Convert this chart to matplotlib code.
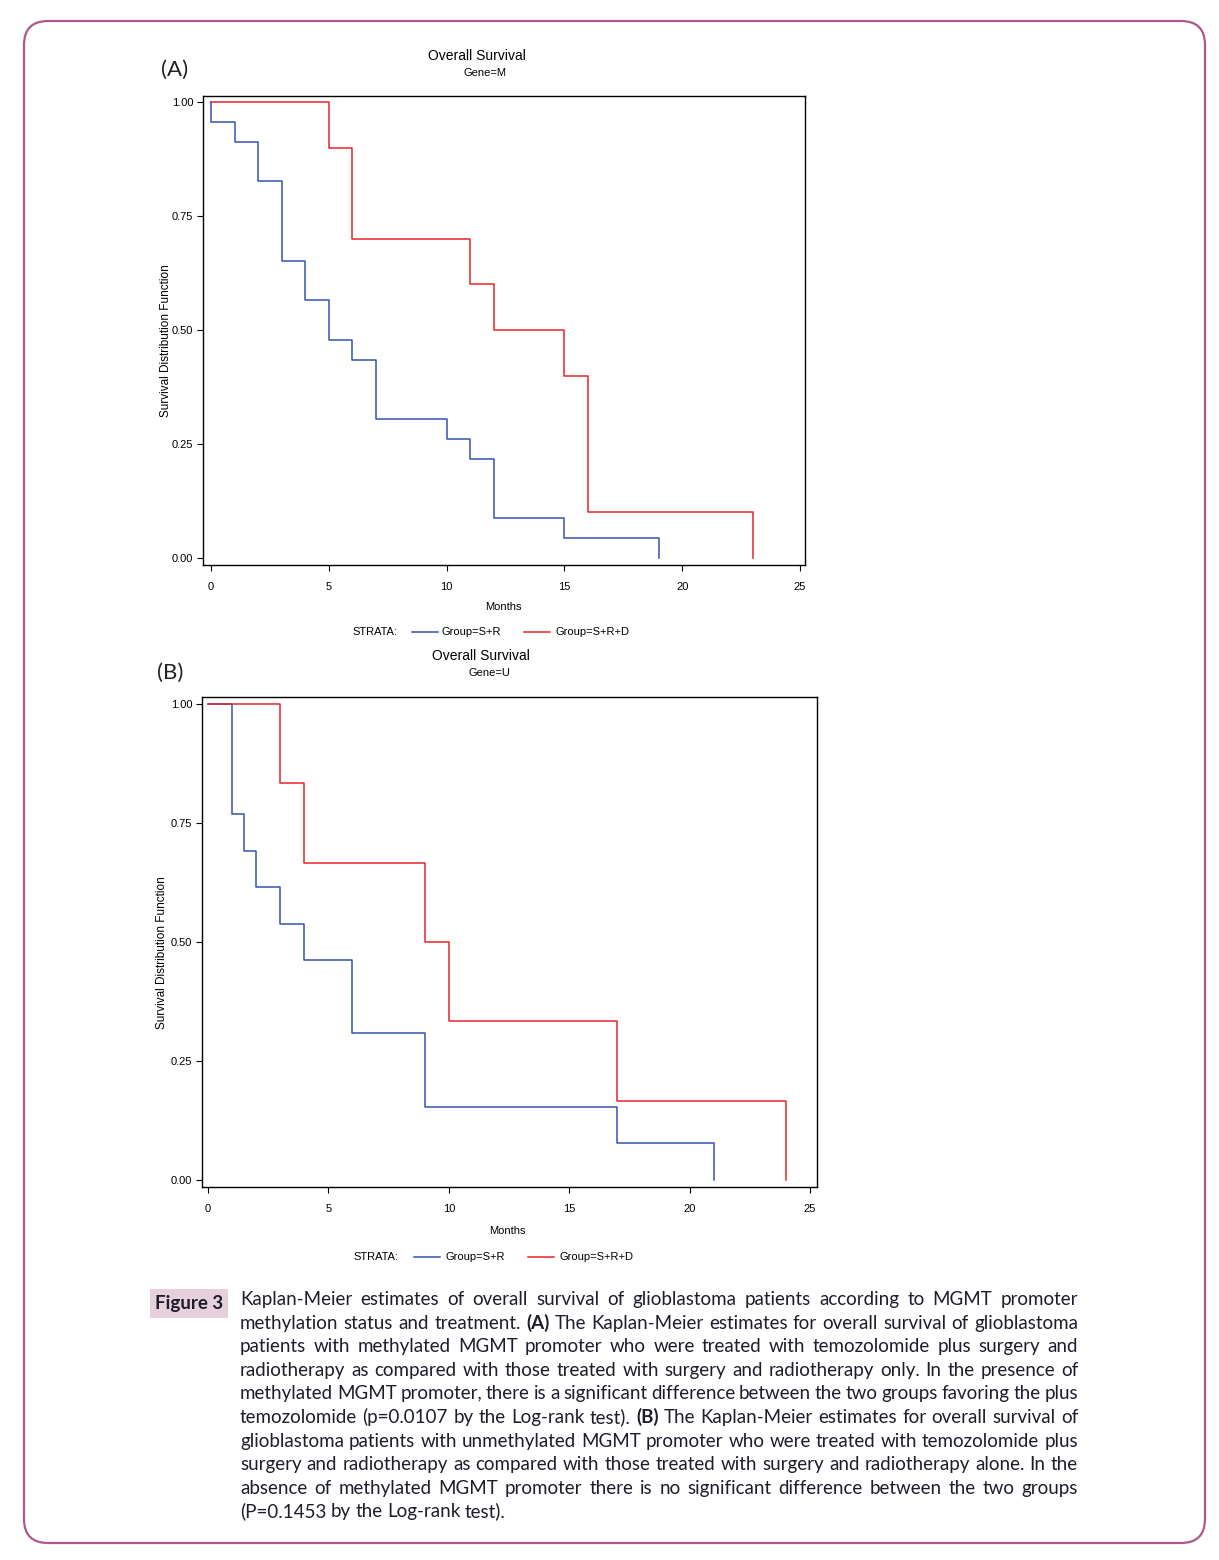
import numpy as np
import matplotlib
matplotlib.use('Agg')
import matplotlib.pyplot as plt
from matplotlib.patches import FancyBboxPatch, Rectangle
from matplotlib.lines import Line2D

W, H = 1219, 1560
sas = ['Liberation Sans Narrow', 'Liberation Sans', 'DejaVu Sans']
capfont = ['Lato', 'DejaVu Sans']
blue = '#3652b2'
red = '#e8232b'
ink = '#1d1d2b'
frame = '#b0578d'

# Kaplan-Meier steps (months, survival)
a_sr_t = [0, 0, 1, 2, 3, 4, 5, 6, 7, 10, 11, 12, 15, 19]
a_sr_s = [1.0, 0.957, 0.913, 0.826, 0.652, 0.565, 0.478, 0.435, 0.304, 0.261, 0.217, 0.087, 0.043, 0.0]
a_srd_t = [0, 5, 6, 11, 12, 15, 16, 23]
a_srd_s = [1.0, 0.9, 0.7, 0.6, 0.5, 0.4, 0.1, 0.0]

b_sr_t = [0, 1, 1.5, 2, 3, 4, 6, 9, 17, 21]
b_sr_s = [1.0, 0.769, 0.692, 0.615, 0.538, 0.462, 0.308, 0.154, 0.077, 0.0]
b_srd_t = [0, 3, 4, 9, 10, 17, 24]
b_srd_s = [1.0, 0.833, 0.667, 0.5, 0.333, 0.167, 0.0]

x_ticks = [0, 5, 10, 15, 20, 25]
y_ticks = [0.0, 0.25, 0.5, 0.75, 1.0]
y_labels = ['0.00', '0.25', '0.50', '0.75', '1.00']
strata = ['Group=S+R', 'Group=S+R+D']

caption = [
    "Kaplan-Meier estimates of overall survival of glioblastoma patients according to MGMT promoter",
    "methylation status and treatment. *(A)* The Kaplan-Meier estimates for overall survival of glioblastoma",
    "patients with methylated MGMT promoter who were treated with temozolomide plus surgery and",
    "radiotherapy as compared with those treated with surgery and radiotherapy only. In the presence of",
    "methylated MGMT promoter, there is a significant difference between the two groups favoring the plus",
    "temozolomide (p=0.0107 by the Log-rank test). *(B)* The Kaplan-Meier estimates for overall survival of",
    "glioblastoma patients with unmethylated MGMT promoter who were treated with temozolomide plus",
    "surgery and radiotherapy as compared with those treated with surgery and radiotherapy alone. In the",
    "absence of methylated MGMT promoter there is no significant difference between the two groups",
    "(P=0.1453 by the Log-rank test).",
]

fig = plt.figure(figsize=(W / 100, H / 100), dpi=100)
bg = fig.add_axes([0, 0, 1, 1], zorder=0)
bg.set_xlim(0, W)
bg.set_ylim(H, 0)
bg.axis('off')

bg.add_patch(FancyBboxPatch((24, 21), 1181, 1522, boxstyle='round,pad=0,rounding_size=24',
                            fc='none', ec=frame, lw=1.6))


def km_panel(l, t, r, b, x0, x25, y1, y0, t1, s1, t2, s2):
    ax = fig.add_axes([l / W, 1 - b / H, (r - l) / W, (b - t) / H], zorder=1)
    kx = 25.0 / (x25 - x0)
    ky = 1.0 / (y0 - y1)
    ax.set_xlim(-(x0 - l) * kx, 25 + (r - x25) * kx)
    ax.set_ylim(-(b - y0) * ky, 1 + (y1 - t) * ky)
    ax.step(t1, s1, where='post', color=blue, lw=1.1)
    ax.step(t2, s2, where='post', color=red, lw=1.1)
    ax.set_xticks(x_ticks)
    ax.set_xticklabels([str(v) for v in x_ticks], family=sas, fontsize=8)
    ax.set_yticks(y_ticks)
    ax.set_yticklabels(y_labels, family=sas, fontsize=8)
    ax.tick_params(length=4, width=0.8, pad=3)
    ax.tick_params(axis='x', pad=8)
    for s in ax.spines.values():
        s.set_linewidth(1.0)
    return ax


km_panel(203, 96, 805, 565, 211, 800, 102, 558, a_sr_t, a_sr_s, a_srd_t, a_srd_s)
km_panel(202, 697, 817, 1187, 208, 810, 704, 1180, b_sr_t, b_sr_s, b_srd_t, b_srd_s)


def panel_text(letter, lx, ly, tx, ty, gene, ylx, yly, mx, my, sy, sx, bl, rl, t1x, t2x):
    bg.text(lx, ly, letter, family=capfont, fontsize=16, ha='center', va='center', color='#222')
    bg.text(tx, ty, 'Overall Survival', family=sas, fontsize=10, ha='center', va='center')
    bg.text(tx + 8, ty + 17, gene, family=sas, fontsize=8, ha='center', va='center')
    bg.text(ylx, yly, 'Survival Distribution Function', family=sas, fontsize=8.5,
            rotation=90, ha='center', va='center')
    bg.text(mx, my, 'Months', family=sas, fontsize=8, ha='center', va='center')
    bg.text(sx, sy, 'STRATA:', family=sas, fontsize=8, ha='left', va='center')
    bg.add_line(Line2D([bl, bl + 26], [sy, sy], color=blue, lw=1.1))
    bg.text(t1x, sy, strata[0], family=sas, fontsize=8, ha='left', va='center')
    bg.add_line(Line2D([rl, rl + 26], [sy, sy], color=red, lw=1.1))
    bg.text(t2x, sy, strata[1], family=sas, fontsize=8, ha='left', va='center')


panel_text('(A)', 175, 70, 477, 56, 'Gene=M', 166, 341, 503, 607, 632, 352, 412, 524, 442, 555)
panel_text('(B)', 170, 673, 481, 656, 'Gene=U', 162, 953, 507, 1231, 1257, 353, 414, 528, 445, 560)

# figure label box
bg.add_patch(Rectangle((150, 1289), 78, 29, fc='#e6d0dc', ec='none'))
bg.text(189, 1304, 'Figure 3', family=capfont, fontsize=13.5, weight='bold',
        ha='center', va='center', color=ink)

# justified caption
fig.canvas.draw()
rend = fig.canvas.get_renderer()
left, right = 240, 1078
base = 1305
step = 23.6
for i, line in enumerate(caption):
    words = line.split(' ')
    items = []
    for w in words:
        bold = w.startswith('*') and w.endswith('*')
        w = w.strip('*')
        t = bg.text(0, base + i * step, w, family=capfont, fontsize=13.5, color=ink,
                    weight='bold' if bold else 'normal', ha='left', va='baseline')
        items.append(t)
    widths = [t.get_window_extent(rend).width for t in items]
    last = i == len(caption) - 1
    gap = 4.5 if last else (right - left - sum(widths)) / (len(items) - 1)
    x = left
    for t, w in zip(items, widths):
        t.set_x(x)
        x += w + gap

fig.savefig('out.png', dpi=100)
